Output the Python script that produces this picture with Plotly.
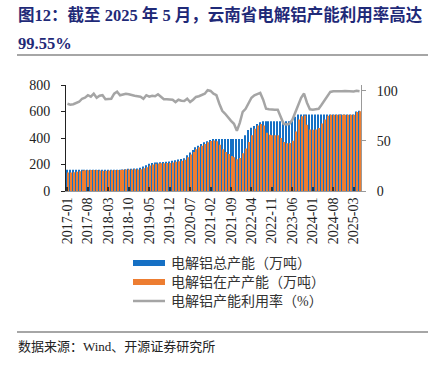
import plotly.graph_objects as go

months = [f"{y}-{m:02d}" for y in range(2017, 2026) for m in range(1, 13)][:101]

total_capacity = [
    160, 160, 160, 160, 160, 160, 160, 160, 160, 160, 160, 160,
    160, 160, 160, 160, 160, 160, 160, 163, 165, 167, 168, 170,
    170, 175, 185, 195, 205, 212, 215, 215, 217, 218, 220, 222,
    228, 232, 238, 242, 248, 270, 290, 310, 330, 342, 355, 367,
    375, 385, 392, 393, 393, 393, 393, 393, 393, 393, 393, 393,
    393, 420, 460, 478, 490, 505, 518, 527, 527, 527, 527, 527,
    527, 527, 527, 527, 527, 535, 560, 578, 578, 578, 578, 578,
    578, 578, 578, 578, 578, 578, 578, 578, 578, 578, 578, 578,
    578, 578, 578, 600, 605,
]

running_capacity = [
    140, 140, 142, 145, 150, 155, 157, 157, 158, 158, 158, 155,
    152, 153, 155, 157, 158, 158, 158, 160, 162, 163, 163, 165,
    163, 165, 172, 180, 192, 200, 205, 208, 210, 210, 212, 212,
    215, 220, 225, 228, 235, 255, 275, 295, 315, 330, 342, 355,
    367, 378, 382, 375, 350, 315, 295, 280, 265, 255, 240, 250,
    285, 320, 370, 420, 470, 495, 505, 495, 440, 425, 420, 420,
    420, 400, 370, 360, 362, 380, 450, 540, 565, 570, 500, 465,
    462, 465, 475, 510, 540, 568, 575, 575, 575, 575, 575, 575,
    575, 575, 575, 597, 602,
]

utilization = [
    87, 86, 86.5, 88, 89, 92, 93, 95.5, 94, 97, 93, 95,
    95.5, 91.5, 92, 92, 97, 99, 95.5, 96, 97, 96.5, 95.5, 95,
    94.5, 94, 92, 95.5, 94, 95, 94.5, 96.5, 94, 91.5, 91.5, 91,
    91, 88.7, 91, 90, 89.7, 92, 88.7, 91, 93.8, 94.5, 95.5, 97,
    100.5, 99.8, 97, 95.5, 87, 80, 77, 73, 70, 67, 60, 68,
    79, 82, 88, 93, 95.5, 97, 97.8, 91, 82, 81.5, 81, 81,
    81, 74, 67, 66.3, 67, 71, 79, 87, 93, 97.2, 88, 81.5,
    81, 81.5, 82, 86, 90.5, 95, 98.8, 99.5, 99.3, 99.6, 99.5, 99.8,
    99.4, 99.7, 99.2, 100, 99.55,
]

tick_labels = months[::7]
legend_names = ["电解铝总产能（万吨）", "电解铝在产产能（万吨）", "电解铝产能利用率（%）"]

BLUE = "#1670C4"
ORANGE = "#ED7D31"
GRAY = "#A5A5A5"
SERIF = "Liberation Serif, Times New Roman, Noto Sans CJK SC, serif"
CJK = "Liberation Serif, Noto Sans CJK SC, serif"

fig = go.Figure()
fig.add_trace(go.Bar(x=months, y=total_capacity, name=legend_names[0],
                     marker=dict(color=BLUE, line=dict(width=0))))
fig.add_trace(go.Bar(x=months, y=running_capacity, name=legend_names[1],
                     marker=dict(color=ORANGE, line=dict(width=0))))
fig.add_trace(go.Scatter(x=months, y=utilization, mode="lines", name=legend_names[2],
                         line=dict(color=GRAY, width=2.5), yaxis="y2"))

L, R, T, B = 66, 76, 85, 177
W, H = 437, 368
pw, ph = W - L - R, H - T - B

def px(x):
    return (x - L) / pw

def py(y):
    return (H - B - y) / ph

fig.update_layout(
    width=W, height=H,
    margin=dict(l=L, r=R, t=T, b=B, pad=0, autoexpand=False),
    paper_bgcolor="white", plot_bgcolor="white",
    barmode="group", bargap=0.3, bargroupgap=0,
    font=dict(family=SERIF, size=13, color="#222"),
    showlegend=False,
    xaxis=dict(
        type="category", tickmode="array", tickvals=tick_labels, ticktext=tick_labels,
        tickangle=-90, ticks="inside", ticklen=4, tickwidth=2, tickcolor="#333",
        showline=True, linecolor="#999", linewidth=1, showgrid=False, automargin=False,
        tickfont=dict(family=SERIF, size=14, color="#222"),
    ),
    yaxis=dict(
        range=[0, 800], tickvals=[0, 200, 400, 600, 800], automargin=False,
        ticks="outside", ticklen=4, tickcolor="#222", showline=True,
        linecolor="#222", linewidth=1, showgrid=False, zeroline=False,
        tickfont=dict(family=SERIF, size=14, color="#222"), ticklabelstandoff=8,
    ),
    yaxis2=dict(
        range=[0, 105.7], tickvals=[0, 50, 100], overlaying="y", side="right",
        ticks="outside", ticklen=4, tickcolor="#999", showline=True, automargin=False,
        linecolor="#999", linewidth=1, showgrid=False, zeroline=False,
        tickfont=dict(family=SERIF, size=14, color="#222"), ticklabelstandoff=8,
    ),
)

# manual legend
legend_rows = [(263, BLUE, 6), (282, ORANGE, 6), (301, GRAY, 2.5)]
for (yy, col, w), name in zip(legend_rows, legend_names):
    fig.add_shape(type="line", xref="paper", yref="paper",
                  x0=px(133), x1=px(165), y0=py(yy), y1=py(yy),
                  line=dict(color=col, width=w))
    fig.add_annotation(text=name, xref="paper", yref="paper", x=px(169), y=py(yy),
                       xanchor="left", yanchor="middle", showarrow=False,
                       font=dict(family=CJK, size=14, color="#333"))

fig.add_annotation(text="<b>图12：截至 2025 年 5 月，云南省电解铝产能利用率高达</b>",
                   xref="paper", yref="paper", x=px(16), y=py(15),
                   xanchor="left", yanchor="middle", showarrow=False,
                   font=dict(family=CJK, size=16.5, color="#1F2A78"))
fig.add_annotation(text="<b>99.55%</b>",
                   xref="paper", yref="paper", x=px(16), y=py(43),
                   xanchor="left", yanchor="middle", showarrow=False,
                   font=dict(family=CJK, size=16.5, color="#1F2A78"))
fig.add_annotation(text="数据来源：Wind、开源证券研究所",
                   xref="paper", yref="paper", x=px(16), y=py(346),
                   xanchor="left", yanchor="middle", showarrow=False,
                   font=dict(family=CJK, size=13, color="#222"))
for yy in (55, 332):
    fig.add_shape(type="line", xref="paper", yref="paper",
                  x0=px(17), x1=px(428), y0=py(yy), y1=py(yy),
                  line=dict(color="#888", width=1.5))

fig.write_html("out.html",
               config={"displayModeBar": False},
               post_script="document.body.style.margin='0';document.body.style.overflow='hidden';")
